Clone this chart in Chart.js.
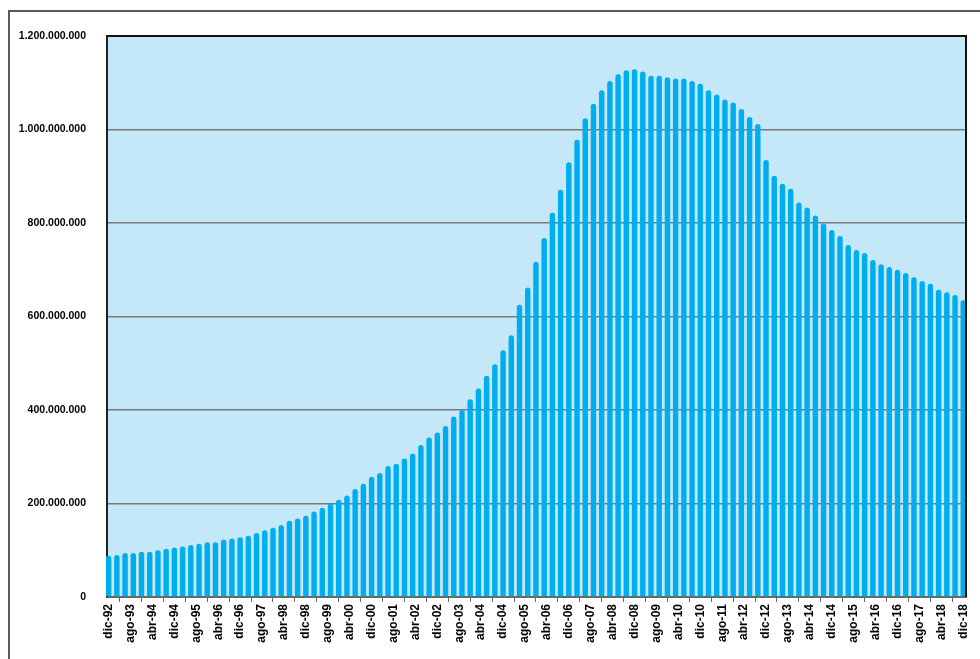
<!DOCTYPE html>
<html>
<head>
<meta charset="utf-8">
<script src="https://cdn.jsdelivr.net/npm/chart.js@4"></script>
<style>
  html, body { margin: 0; padding: 0; background: #fff; }
</style>
</head>
<body>
<canvas id="barchart" width="980" height="659"></canvas>
<script>
// quarterly values (millions), dic-92 .. dic-18
const values = [
  88, 90, 94, 94, 97, 97, 100, 103, 106, 108,
  111, 114, 117, 117, 123, 125, 128, 131, 137, 143,
  148, 154, 163, 168, 174, 183, 191, 200, 208, 217,
  231, 242, 257, 265, 280, 285, 296, 307, 325, 341,
  352, 366, 386, 400, 423, 446, 473, 498, 528, 560,
  625, 662, 717, 768, 822, 871, 930, 978, 1024, 1055,
  1084, 1104, 1118, 1127, 1129, 1124, 1115, 1115, 1112, 1109,
  1109, 1104, 1098, 1084, 1075, 1064, 1058, 1044, 1027, 1012,
  935, 901, 884, 873, 844, 833, 816, 799, 785, 772,
  753, 742, 736, 721, 712, 706, 700, 693, 684, 676,
  670, 657, 652, 646, 635
];

// axis labels, one every 8 months
const tickLabels = [
  "dic-92", "ago-93", "abr-94", "dic-94", "ago-95", "abr-96", "dic-96", "ago-97",
  "abr-98", "dic-98", "ago-99", "abr-00", "dic-00", "ago-01", "abr-02", "dic-02",
  "ago-03", "abr-04", "dic-04", "ago-05", "abr-06", "dic-06", "ago-07", "abr-08",
  "dic-08", "ago-09", "abr-10", "dic-10", "ago-11", "abr-12", "dic-12", "ago-13",
  "abr-14", "dic-14", "ago-15", "abr-16", "dic-16", "ago-17", "abr-18", "dic-18"
];

const monthsPerBar = 3;
const monthsPerTick = 8;

function dots(n) {
  return String(n).replace(/\B(?=(\d{3})+(?!\d))/g, ".");
}

const frame = {
  id: "frame",
  beforeDraw(chart) {
    const { ctx, chartArea: a } = chart;
    ctx.save();
    ctx.fillStyle = "#fff";
    ctx.fillRect(0, 0, chart.width, chart.height);
    ctx.strokeStyle = "#5a5a5a";
    ctx.lineWidth = 2;
    ctx.strokeRect(9, 11, chart.width + 20, chart.height + 20);
    ctx.fillStyle = "#C5E8F8";
    ctx.fillRect(a.left, a.top, a.right - a.left, a.bottom - a.top);
    ctx.restore();
  },
  afterDraw(chart) {
    const { ctx, chartArea: a } = chart;
    ctx.save();
    ctx.strokeStyle = "#111";
    ctx.lineWidth = 2;
    ctx.beginPath();
    ctx.moveTo(a.left, a.top);
    ctx.lineTo(a.right, a.top);
    ctx.lineTo(a.right, a.bottom);
    ctx.stroke();
    ctx.restore();
  }
};

const ctx = document.getElementById("barchart").getContext("2d");
const barchart = new Chart(ctx, {
  type: "bar",
  data: {
    datasets: [
      {
        data: values.map((v, i) => ({ x: i * monthsPerBar, y: v })),
        backgroundColor: "#00AEEF",
        borderWidth: 0,
        borderRadius: { topLeft: 3, topRight: 3, bottomLeft: 0, bottomRight: 0 },
        borderSkipped: "start",
        barPercentage: 0.66,
        categoryPercentage: 1,
        clip: false,
      },
    ],
  },
  options: {
    responsive: false,
    animation: false,
    layout: { padding: { top: 36, right: 14, left: 0, bottom: 0 } },
    plugins: {
      legend: { display: false },
      tooltip: { enabled: false },
    },
    scales: {
      x: {
        type: "linear",
        offset: false,
        min: -0.6,
        max: 313,
        afterBuildTicks: (scale) => {
          scale.ticks = tickLabels.map((_, j) => ({ value: j * monthsPerTick }));
        },
        afterFit: (scale) => { scale.height = 62; },
        ticks: {
          autoSkip: false,
          maxRotation: 90,
          minRotation: 90,
          padding: 2,
          color: "#000",
          font: { family: "Liberation Sans", size: 12, weight: "bold" },
          callback: (value) => tickLabels[Math.round(value / monthsPerTick)],
        },
        grid: { drawOnChartArea: false, drawTicks: true, tickLength: 5, color: "#666" },
        border: { color: "#666", width: 2 },
      },
      y: {
        z: 1,
        min: 0,
        max: 1200,
        afterFit: (scale) => { scale.width = 107; },
        ticks: {
          stepSize: 200,
          padding: 21,
          color: "#000",
          font: { family: "Liberation Sans", size: 10.5, weight: "bold" },
          callback: (v) => (v === 0 ? "0" : dots(v * 1000000)),
        },
        grid: { color: "#7a7a7a", lineWidth: 1.5, drawTicks: false },
        border: { color: "#222", width: 2 },
      },
    },
  },
  plugins: [frame],
});
</script>
</body>
</html>
